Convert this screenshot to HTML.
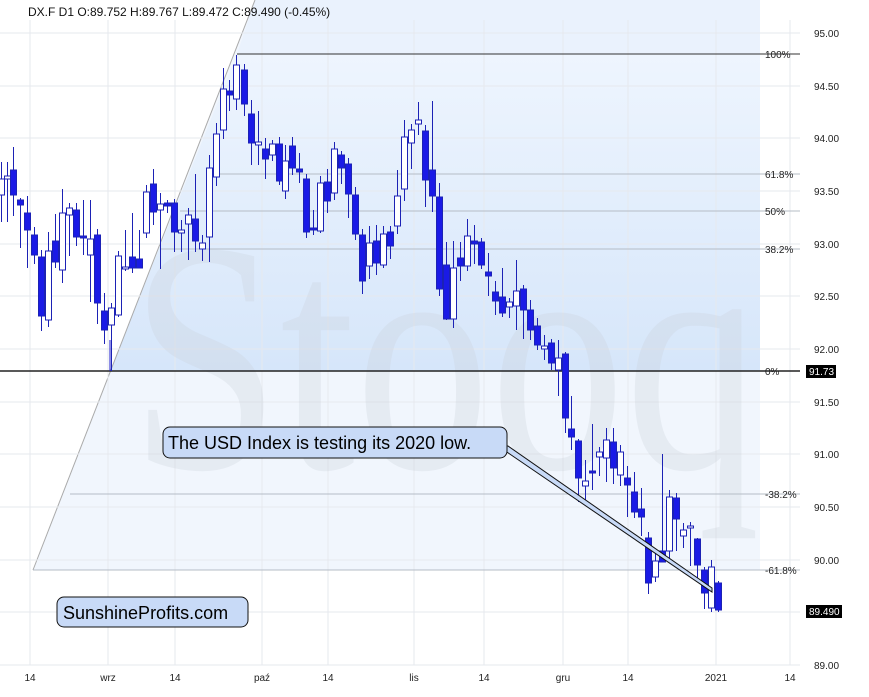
<!DOCTYPE html><html><head><style>body{margin:0;background:#fff}svg{display:block}text{font-family:"Liberation Sans",sans-serif}</style></head><body>
<svg width="869" height="697" xmlns="http://www.w3.org/2000/svg">
<defs><linearGradient id="g1" x1="0" y1="0" x2="0" y2="1"><stop offset="0" stop-color="#eef5fe"/><stop offset="1" stop-color="#d6e6fa"/></linearGradient></defs>
<rect width="869" height="697" fill="#fff"/>
<polygon points="33,570 110,371 255,0 760,0 760,570" fill="#f1f6fd"/>
<polygon points="110,371 237,54 760,54 760,371" fill="url(#g1)"/>
<polygon points="237,54 255,0 760,0 760,54" fill="#eaf2fd"/>
<line x1="33" y1="570" x2="255" y2="0" stroke="#aaa" stroke-width="1"/>
<g stroke="#e6e9ee" stroke-width="1">
<line x1="30" y1="20" x2="30" y2="665"/><line x1="108" y1="20" x2="108" y2="665"/><line x1="175" y1="20" x2="175" y2="665"/><line x1="262" y1="20" x2="262" y2="665"/><line x1="328" y1="20" x2="328" y2="665"/><line x1="414" y1="20" x2="414" y2="665"/><line x1="484" y1="20" x2="484" y2="665"/><line x1="563" y1="20" x2="563" y2="665"/><line x1="628" y1="20" x2="628" y2="665"/><line x1="716" y1="20" x2="716" y2="665"/><line x1="790" y1="20" x2="790" y2="665"/>
<line x1="0" y1="33" x2="800" y2="33"/><line x1="0" y1="86" x2="800" y2="86"/><line x1="0" y1="138" x2="800" y2="138"/><line x1="0" y1="191" x2="800" y2="191"/><line x1="0" y1="244" x2="800" y2="244"/><line x1="0" y1="296" x2="800" y2="296"/><line x1="0" y1="349" x2="800" y2="349"/><line x1="0" y1="402" x2="800" y2="402"/><line x1="0" y1="454" x2="800" y2="454"/><line x1="0" y1="507" x2="800" y2="507"/><line x1="0" y1="560" x2="800" y2="560"/><line x1="0" y1="612" x2="800" y2="612"/><line x1="0" y1="665" x2="800" y2="665"/>
</g>
<text x="130" y="468" font-size="330" fill="#c9cfd9" fill-opacity="0.3" textLength="630" lengthAdjust="spacingAndGlyphs" style="font-family:'Liberation Serif',serif">Stooq</text>
<g stroke="#b5bcc6" stroke-width="1"><line x1="210" y1="174" x2="800" y2="174"/><line x1="180" y1="211" x2="800" y2="211"/><line x1="160" y1="249" x2="800" y2="249"/><line x1="70" y1="494" x2="800" y2="494"/><line x1="33" y1="570" x2="800" y2="570"/></g>
<line x1="237" y1="54" x2="800" y2="54" stroke="#333"/>
<line x1="0" y1="371" x2="800" y2="371" stroke="#222" stroke-width="1.6"/>
<line x1="110" y1="371" x2="110" y2="340" stroke="#1a1acc"/>
<g id="c" stroke="#1c22b5" stroke-width="1"></g>
<g font-size="10" fill="#222">
<text x="765" y="58">100%</text><text x="765" y="178">61.8%</text><text x="765" y="215">50%</text><text x="765" y="253">38.2%</text><text x="765" y="375">0%</text><text x="765" y="498">-38.2%</text><text x="765" y="574">-61.8%</text>
<text x="814" y="37">95.00</text><text x="814" y="90">94.50</text><text x="814" y="142">94.00</text><text x="814" y="195">93.50</text><text x="814" y="248">93.00</text><text x="814" y="300">92.50</text><text x="814" y="353">92.00</text><text x="814" y="406">91.50</text><text x="814" y="458">91.00</text><text x="814" y="511">90.50</text><text x="814" y="564">90.00</text><text x="814" y="669">89.00</text>
</g>
<rect x="806" y="365" width="30" height="13" fill="#000"/><text x="809" y="375" font-size="10" fill="#fff">91.73</text>
<rect x="806" y="605" width="36" height="13" fill="#000"/><text x="809" y="615" font-size="10" fill="#fff">89.490</text>
<g font-size="10" fill="#222" text-anchor="middle"><text x="30" y="681">14</text><text x="108" y="681">wrz</text><text x="175" y="681">14</text><text x="262" y="681">paź</text><text x="328" y="681">14</text><text x="414" y="681">lis</text><text x="484" y="681">14</text><text x="563" y="681">gru</text><text x="628" y="681">14</text><text x="716" y="681">2021</text><text x="790" y="681">14</text></g>
<text x="28" y="16" font-size="12" fill="#111">DX.F  D1  O:89.752  H:89.767  L:89.472  C:89.490  (-0.45%)</text>
<polygon points="498,446 712,592 712,588 508,446" fill="#c8daf7" stroke="#111" stroke-width="1"/>
<rect x="163" y="427" width="344" height="31" rx="7" fill="#c8daf7" stroke="#111"/>
<text x="168" y="449" font-size="18" fill="#000">The USD Index is testing its 2020 low.</text>
<rect x="57" y="597" width="191" height="30" rx="7" fill="#c8daf7" stroke="#111"/>
<text x="63" y="619" font-size="18" fill="#000">SunshineProfits.com</text>
</svg>
<script>
var d=[[1,179,195,162,222,0],[7,176,179,162,222,0],[13,170,195,147,216,1],[20,200,205,198,248,1],[27,213,230,196,268,1],[34,235,255,227,264,1],[41,257,316,250,331,1],[48,251,320,232,327,0],[55,241,262,214,268,1],[62,213,270,189,283,0],[69,208,215,203,256,0],[76,210,237,203,246,1],[83,236,238,200,255,1],[90,239,255,200,302,0],[97,235,303,229,324,1],[104,311,330,293,344,1],[111,308,325,303,371,0],[118,256,315,251,317,0],[125,267,269,230,271,0],[132,257,268,213,273,1],[139,259,268,230,268,1],[146,192,233,185,238,0],[153,184,212,169,225,1],[160,204,210,193,269,0],[167,203,206,200,213,1],[174,203,232,199,252,1],[181,230,233,220,252,0],[188,215,224,208,260,0],[195,219,241,174,252,1],[202,243,249,235,261,0],[209,168,237,155,262,0],[216,134,177,123,186,0],[223,89,130,68,139,0],[229,91,95,80,111,1],[236,65,99,55,110,0],[244,70,104,64,116,1],[251,114,143,100,165,1],[258,142,145,111,165,0],[265,149,159,138,179,1],[272,144,155,140,161,0],[279,144,181,137,185,1],[285,161,191,145,199,0],[292,146,168,137,175,1],[299,169,172,153,183,1],[306,179,232,174,238,1],[313,228,230,210,235,1],[320,183,231,176,233,0],[327,182,201,169,213,1],[334,149,193,142,200,0],[341,155,168,151,184,1],[348,164,194,158,218,1],[355,195,234,187,240,1],[362,235,281,229,294,1],[369,243,266,226,279,0],[376,241,263,225,275,1],[383,234,265,226,268,0],[390,232,246,226,259,1],[397,196,226,170,234,0],[404,137,189,120,201,0],[411,130,143,124,169,0],[418,120,124,102,135,0],[425,131,180,125,207,1],[432,170,196,101,212,1],[439,197,289,183,296,1],[446,265,319,242,320,1],[453,268,319,241,328,0],[460,258,266,242,281,1],[467,236,266,219,271,0],[474,241,244,225,264,1],[481,242,265,238,269,1],[488,272,276,253,296,1],[495,292,301,281,315,1],[502,297,313,268,317,1],[509,302,307,298,318,0],[516,291,306,260,330,0],[523,289,310,285,339,1],[530,310,330,300,340,1],[537,326,345,318,350,1],[544,346,349,335,360,0],[551,343,363,339,370,1],[558,358,370,340,396,0],[565,354,418,352,433,1],[571,429,437,396,450,1],[578,441,478,439,502,1],[585,481,486,460,503,0],[592,471,473,424,490,1],[599,452,457,447,476,0],[606,440,458,428,482,0],[613,442,468,428,484,1],[620,452,475,445,486,0],[627,478,485,466,517,1],[634,492,512,472,518,1],[641,509,517,488,536,1],[648,538,583,532,594,1],[655,561,577,551,582,0],[662,551,562,454,562,1],[669,497,551,490,560,0],[676,498,519,493,551,1],[683,530,536,523,548,0],[690,526,528,522,566,0],[697,539,565,538,578,1],[704,570,593,567,609,1],[711,567,608,560,612,0],[718,583,610,581,612,1]];
var g=document.getElementById('c'),s='';
d.forEach(function(c){var x=c[0]+0.5;s+='<line x1="'+x+'" y1="'+c[3]+'" x2="'+x+'" y2="'+c[4]+'"/>';var h=Math.max(c[2]-c[1],2);s+='<rect x="'+(c[0]-2.5)+'" y="'+c[1]+'" width="6" height="'+h+'" fill="'+(c[5]?'#1a1ae6':'#fff')+'"/>';});
g.innerHTML=s;
</script>
</body></html>
